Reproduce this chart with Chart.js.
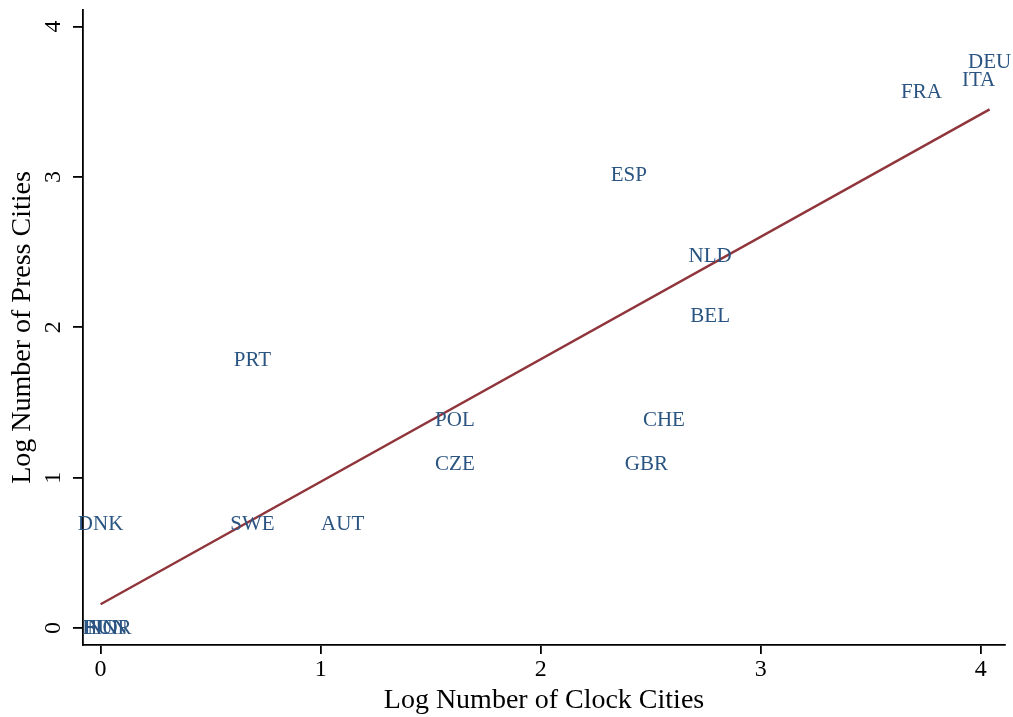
<!DOCTYPE html>
<html>
<head>
<meta charset="utf-8">
<script src="https://cdn.jsdelivr.net/npm/chart.js@4/dist/chart.umd.min.js"></script>
<style>
  html, body { margin: 0; padding: 0; background: #fff; }
  #wrap { width: 1013px; height: 717px; }
</style>
</head>
<body>
<div id="wrap"><canvas id="chart" width="1013" height="717"></canvas></div>
<script>
const countries = ['DEU', 'ITA', 'FRA', 'ESP', 'NLD', 'BEL', 'PRT', 'POL', 'CHE', 'CZE', 'GBR', 'DNK', 'SWE', 'AUT', 'FIN', 'HUN', 'NOR'];
const logClock = [4.04, 3.99, 3.73, 2.40, 2.77, 2.77, 0.69, 1.61, 2.56, 1.61, 2.48, 0.00, 0.69, 1.10, 0.00, 0.02, 0.04];
const logPress = [3.76, 3.64, 3.56, 3.01, 2.47, 2.07, 1.78, 1.38, 1.38, 1.09, 1.09, 0.69, 0.69, 0.69, 0.00, 0.00, 0.00];
const fitX = [0, 4.04];
const fitY = [0.158, 3.449];
const xTicks = [0, 1, 2, 3, 4];
const yTicks = [0, 1, 2, 3, 4];

const SERIF = '"Liberation Serif", "DejaVu Serif", serif';
const NAVY = '#2a5481';
const MAROON = '#90353b';

// draws country names centred on each (invisible) point
const labelPlugin = {
  id: 'labels',
  afterDatasetsDraw(chart) {
    const ctx = chart.ctx;
    const meta = chart.getDatasetMeta(1);
    ctx.save();
    ctx.font = '21px ' + SERIF;
    ctx.fillStyle = NAVY;
    ctx.textAlign = 'center';
    ctx.textBaseline = 'middle';
    meta.data.forEach((pt, i) => {
      ctx.fillText(countries[i], pt.x, pt.y);
    });
    ctx.restore();
  }
};

// y tick labels are rotated in the original
const yTickPlugin = {
  id: 'ytick',
  afterDraw(chart) {
    const ctx = chart.ctx;
    const ys = chart.scales.y;
    ctx.save();
    ctx.font = '24px ' + SERIF;
    ctx.fillStyle = '#000';
    ctx.textAlign = 'center';
    ctx.textBaseline = 'middle';
    yTicks.forEach((v) => {
      const py = ys.getPixelForValue(v);
      ctx.save();
      ctx.translate(54, py);
      ctx.rotate(-Math.PI / 2);
      ctx.fillText(String(v), 0, 0);
      ctx.restore();
    });
    ctx.restore();
  }
};

new Chart(document.getElementById('chart'), {
  type: 'scatter',
  data: {
    datasets: [
      {
        type: 'line',
        data: fitX.map((x, i) => ({ x, y: fitY[i] })),
        borderColor: MAROON,
        borderWidth: 2.4,
        pointRadius: 0,
        fill: false
      },
      {
        data: logClock.map((x, i) => ({ x, y: logPress[i] })),
        pointRadius: 0,
        backgroundColor: NAVY
      }
    ]
  },
  options: {
    responsive: false,
    animation: false,
    layout: { padding: { left: 0, right: 8, top: 10, bottom: 0 } },
    plugins: { legend: { display: false }, tooltip: { enabled: false } },
    scales: {
      x: {
        type: 'linear',
        min: -0.08,
        max: 4.11,
        afterFit: (s) => { s.height = 72; },
        afterBuildTicks: (s) => { s.ticks = xTicks.map(v => ({ value: v })); },
        border: { display: true, color: '#000', width: 1.8 },
        grid: { drawOnChartArea: false, drawTicks: true, tickLength: 9, color: '#000', lineWidth: 1.8 },
        ticks: { color: '#000', font: { family: SERIF, size: 24 }, padding: 1, maxRotation: 0 },
        title: { display: true, text: 'Log Number of Clock Cities', color: '#000', font: { family: SERIF, size: 28 }, padding: { top: -6, bottom: 0 } }
      },
      y: {
        type: 'linear',
        min: -0.113,
        max: 4.11,
        afterFit: (s) => { s.width = 83; },
        afterBuildTicks: (s) => { s.ticks = yTicks.map(v => ({ value: v })); },
        border: { display: true, color: '#000', width: 1.8 },
        grid: { drawOnChartArea: false, drawTicks: true, tickLength: 10, color: '#000', lineWidth: 1.8 },
        ticks: { color: 'rgba(0,0,0,0)', font: { family: SERIF, size: 1 }, padding: 0 },
        title: { display: true, text: 'Log Number of Press Cities', color: '#000', font: { family: SERIF, size: 28 }, padding: { top: 6, bottom: 0 } }
      }
    }
  },
  plugins: [labelPlugin, yTickPlugin]
});
</script>
</body>
</html>
